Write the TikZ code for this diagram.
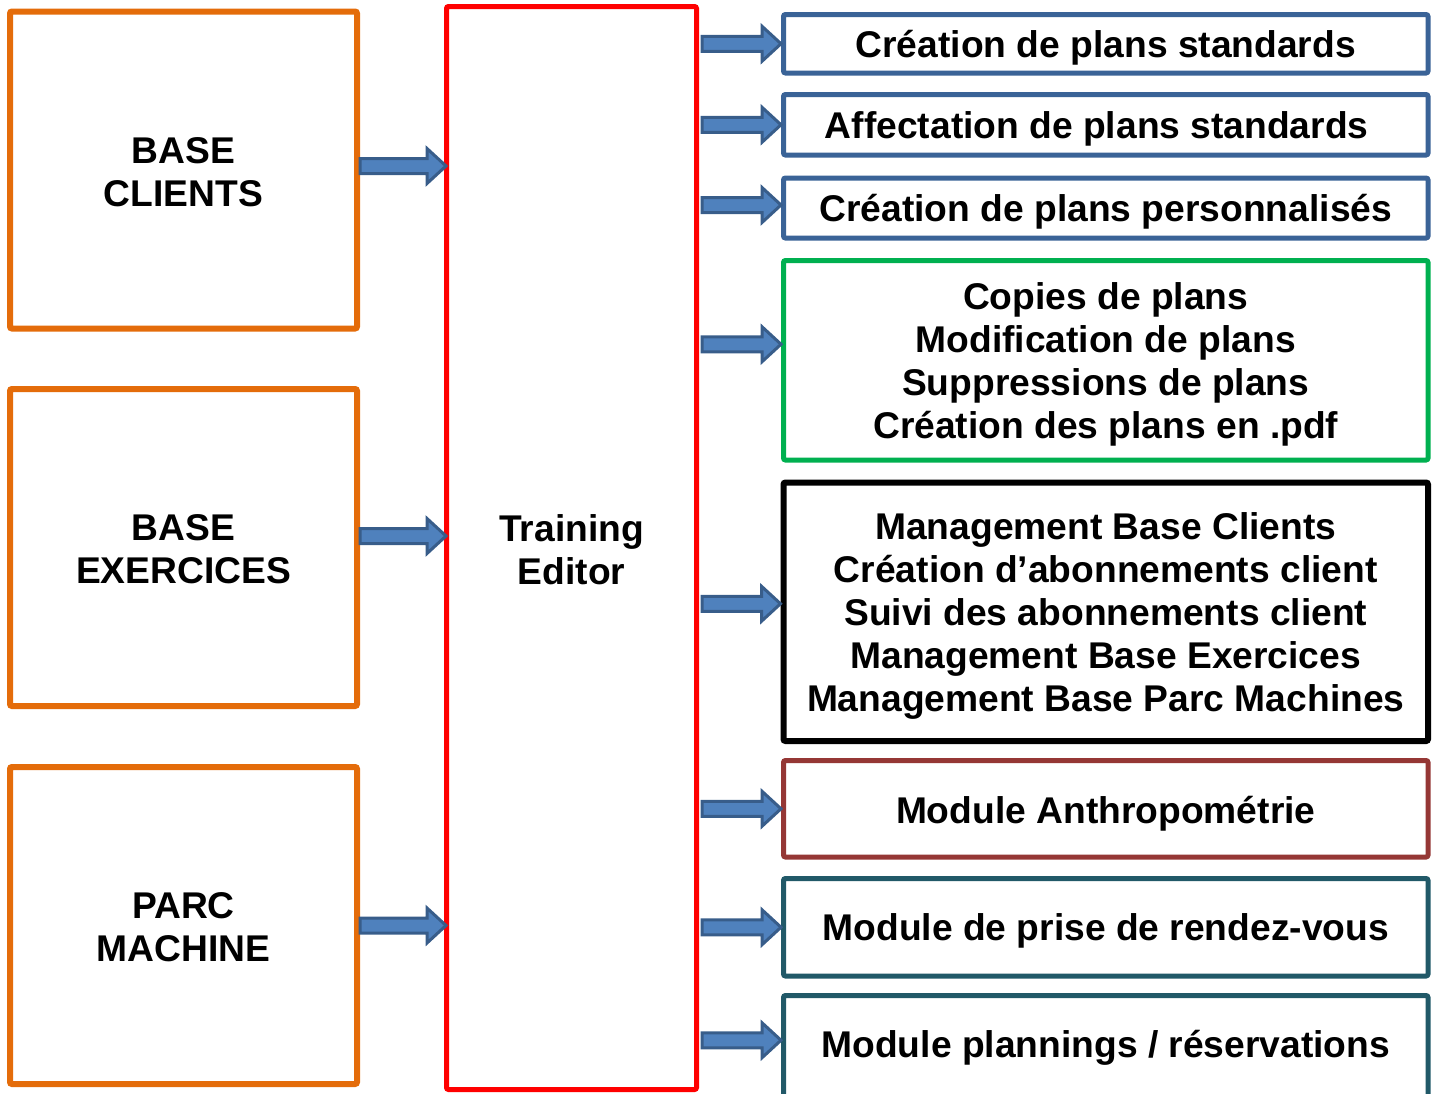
\documentclass[tikz,border=0pt]{standalone}
\usepackage{fontspec}
\setmainfont{Liberation Sans}
\usetikzlibrary{calc}

\definecolor{srcorange}{HTML}{E46C0A}
\definecolor{edred}{HTML}{FF0000}
\definecolor{modblue}{HTML}{3A6397}
\definecolor{modgreen}{HTML}{00B050}
\definecolor{moddarkred}{HTML}{953735}
\definecolor{modteal}{HTML}{215968}
\definecolor{arrowfill}{HTML}{4F81BD}
\definecolor{arrowline}{HTML}{385D8A}

\tikzset{
  box/.style={draw, fill=white, inner sep=0pt, rounded corners=1pt},
  txt/.style={align=center, inner sep=0pt,
    font=\bfseries\fontsize{18.6}{21.5}\selectfont},
  srcbox/.style={box, draw=srcorange, line width=3pt,
    minimum width=173.5pt, minimum height=158.5pt},
  editorbox/.style={box, draw=edred, line width=2.5pt,
    minimum width=125pt, minimum height=541.5pt},
  modbox/.style={box, line width=2.5pt, minimum width=322.25pt},
  blockarrow/.style={fill=arrowfill, draw=arrowline, line width=1.5pt,
    line join=miter}
}

% horizontal block arrow at the height of #1, tip at the x of #2
\newcommand\blockarrow[2]{%
  \draw[blockarrow] let \p1=#1, \p2=#2 in
    (\x1,\y1+3.75pt) -- (\x2-9.5pt,\y1+3.75pt) -- (\x2-9.5pt,\y1+8.75pt)
    -- (\x2,\y1) -- (\x2-9.5pt,\y1-8.75pt) -- (\x2-9.5pt,\y1-3.75pt)
    -- (\x1,\y1-3.75pt) -- cycle;}

\begin{document}
\begin{tikzpicture}[x=0.5pt,y=-0.5pt]
\useasboundingbox (0,0) rectangle (1440,1093);

% data sources
\node[srcbox] (clients)   at (183.5,170)   {};
\node[srcbox] (exercices) at (183.5,547.5) {};
\node[srcbox] (parc)      at (183.5,925.5) {};
\node[txt] (clientsT)   at ([yshift=-1pt]clients.center)   {BASE\\CLIENTS};
\node[txt] (exercicesT) at ([yshift=-0.75pt]exercices.center) {BASE\\EXERCICES};
\node[txt] (parcT)      at ([yshift=-1pt]parc.center)      {PARC\\MACHINE};

% central editor
\node[editorbox] (editor) at (571.5,548) {};
\node[txt] (editorT) at ([yshift=-0.75pt]editor.center) {Training\\Editor};

% modules
\node[modbox, draw=modblue, minimum height=29.25pt] (r1) at (1105.75,43.75) {};
\node[modbox, draw=modblue, minimum height=30.25pt] (r2) at (1105.75,124.75) {};
\node[modbox, draw=modblue, minimum height=30pt] (r3) at (1105.75,208) {};
\node[modbox, draw=modgreen, minimum height=99.75pt] (r4) at (1105.75,360.25) {};
\node[modbox, draw=black, line width=3pt, minimum height=129.25pt] (r5) at (1105.75,611.75) {};
\node[modbox, draw=moddarkred, minimum height=48.25pt] (r6) at (1105.75,808.75) {};
\node[modbox, draw=modteal, minimum height=48.75pt] (r7) at (1105.75,927.25) {};
\node[modbox, draw=modteal, minimum height=50.75pt] (r8) at (1105.75,1046.25) {};

\node[txt] (r1T) at ([yshift=-2pt]r1.center) {Création de plans standards};
\node[txt] (r2T) at ([xshift=-4.5pt,yshift=-2pt]r2.center) {Affectation de plans standards};
\node[txt] (r3T) at ([yshift=-2pt]r3.center) {Création de plans personnalisés};
\node[txt] (r4T) at ([yshift=-2pt]r4.center)
  {Copies de plans\\Modification de plans\\Suppressions de plans\\Création des plans en .pdf};
\node[txt] (r5T) at ([yshift=-2pt]r5.center)
  {Management Base Clients\\Création d’abonnements client\\Suivi des abonnements client\\Management Base Exercices\\Management Base Parc Machines};
\node[txt] (r6T) at ([yshift=-2.5pt]r6.center) {Module Anthropométrie};
\node[txt] (r7T) at ([yshift=-2pt]r7.center) {Module de prise de rendez-vous};
\node[txt] (r8T) at ([yshift=-1pt]r8.center) {Module plannings / réservations};

% inputs
\blockarrow{([yshift=2pt]clients.east)}{([xshift=1pt]editor.west)}
\blockarrow{([yshift=5.75pt]exercices.east)}{([xshift=1pt]editor.west)}
\blockarrow{(parc.east)}{([xshift=1pt]editor.west)}

% outputs
\blockarrow{($(editor.east |- r1.west)+(3,0)$)}{(r1.west)}
\blockarrow{($(editor.east |- r2.west)+(3,0)$)}{(r2.west)}
\blockarrow{($(editor.east |- r3.west)+(3,-3)$)}{(r3.west)}
\blockarrow{($(editor.east |- r4.west)+(3,-16)$)}{(r4.west)}
\blockarrow{($(editor.east |- r5.west)+(3,-8)$)}{(r5.west)}
\blockarrow{($(editor.east |- r6.west)+(3,0)$)}{(r6.west)}
\blockarrow{($(editor.east |- r7.west)+(3,0)$)}{(r7.west)}
\blockarrow{($(editor.east |- r8.west)+(3,-6)$)}{(r8.west)}
\end{tikzpicture}
\end{document}
